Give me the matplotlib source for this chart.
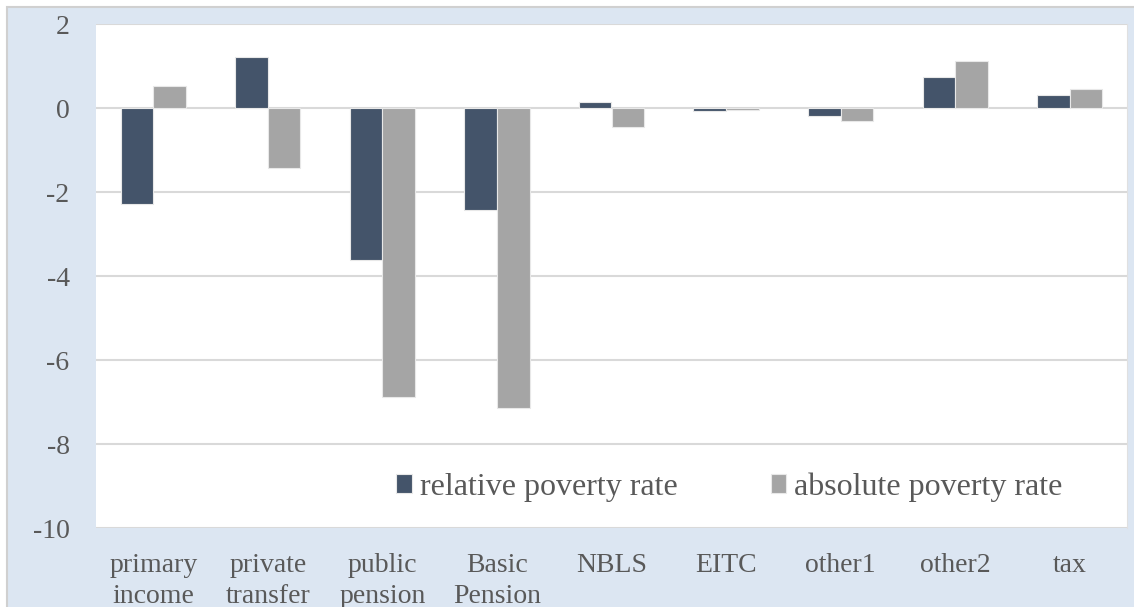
import numpy as np
import matplotlib.pyplot as plt
from matplotlib.patches import Rectangle

categories = ['primary\nincome', 'private\ntransfer', 'public\npension', 'Basic\nPension',
              'NBLS', 'EITC', 'other1', 'other2', 'tax']
relative = [-2.29, 1.21, -3.62, -2.44, 0.14, -0.06, -0.18, 0.73, 0.30]
absolute = [0.52, -1.43, -6.88, -7.14, -0.46, -0.04, -0.32, 1.11, 0.45]

plt.rcParams['font.family'] = 'serif'
plt.rcParams['font.serif'] = ['Liberation Serif', 'DejaVu Serif']
plt.rcParams['axes.unicode_minus'] = False
txt = '#595959'

fig = plt.figure(figsize=(11.34, 6.07), dpi=100, facecolor='white')
# light blue chart area with thin grey border
fig.patches.append(Rectangle((7/1134, -0.2), 1.2, 1 - 7/607 + 0.2, transform=fig.transFigure,
                             facecolor='#DCE6F2', edgecolor='#D0D0D0', linewidth=1.5, zorder=-5))

ax = fig.add_axes([96/1134, 1 - 528/607, (1127 - 96)/1134, (528 - 24)/607])
ax.set_facecolor('white')

x = np.arange(len(categories))
w = 0.285
ax.bar(x - w/2, relative, w, color='#44546A', edgecolor='#E8E8E8', linewidth=0.8,
       label='relative poverty rate', zorder=3)
ax.bar(x + w/2, absolute, w, color='#A5A5A5', edgecolor='#E8E8E8', linewidth=0.8,
       label='absolute poverty rate', zorder=3)

ax.set_xlim(-0.5, len(categories) - 0.5)
ax.set_ylim(-10, 2)
ax.set_yticks(range(-10, 3, 2))
ax.grid(axis='y', color='#D9D9D9', linewidth=1.5, zorder=0)
for s in ['left', 'top', 'bottom']:
    ax.spines[s].set_visible(False)
ax.spines['right'].set_color('#E0E0E0')

ax.set_xticks(x)
ax.set_xticklabels(categories, linespacing=1.32)
ax.tick_params(axis='x', length=0, pad=18, labelsize=20, labelcolor=txt)
ax.tick_params(axis='y', length=0, pad=19, labelsize=20, labelcolor=txt)

ax.legend(loc='center', bbox_to_anchor=((729.5 - 96)/1031, (528 - 487)/504), ncol=2, frameon=False,
          fontsize=23, labelcolor=txt, handlelength=0.5, handleheight=0.5,
          handletextpad=0.25, columnspacing=2.9)

fig.savefig('out.png', dpi=100, facecolor=fig.get_facecolor())
